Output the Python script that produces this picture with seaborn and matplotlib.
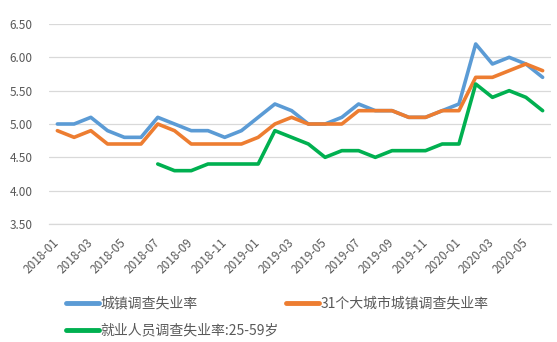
import numpy as np
import pandas as pd
import matplotlib
matplotlib.use("Agg")
import matplotlib.pyplot as plt
import seaborn as sns
from matplotlib.lines import Line2D

months = [f"{y}-{m:02d}" for y in (2018, 2019, 2020) for m in range(1, 13)][:30]

urban = [5.0, 5.0, 5.1, 4.9, 4.8, 4.8, 5.1, 5.0, 4.9, 4.9, 4.8, 4.9,
         5.1, 5.3, 5.2, 5.0, 5.0, 5.1, 5.3, 5.2, 5.2, 5.1, 5.1, 5.2,
         5.3, 6.2, 5.9, 6.0, 5.9, 5.7]
big31 = [4.9, 4.8, 4.9, 4.7, 4.7, 4.7, 5.0, 4.9, 4.7, 4.7, 4.7, 4.7,
         4.8, 5.0, 5.1, 5.0, 5.0, 5.0, 5.2, 5.2, 5.2, 5.1, 5.1, 5.2,
         5.2, 5.7, 5.7, 5.8, 5.9, 5.8]
age2559 = [np.nan] * 6 + [4.4, 4.3, 4.3, 4.4, 4.4, 4.4,
           4.4, 4.9, 4.8, 4.7, 4.5, 4.6, 4.6, 4.5, 4.6, 4.6, 4.6, 4.7,
           4.7, 5.6, 5.4, 5.5, 5.4, 5.2]

names = ["城镇调查失业率", "31个大城市城镇调查失业率", "就业人员调查失业率:25-59岁"]
colors = ["#5B9BD5", "#ED7D31", "#00B050"]

df = pd.concat([
    pd.DataFrame({"idx": range(len(months)), "month": months, "value": v, "series": n})
    for v, n in zip([urban, big31, age2559], names)
])

sns.set_theme(style="white")
plt.rcParams['font.family'] = ['Noto Sans CJK SC', 'DejaVu Sans']

fig = plt.figure(figsize=(5.57, 3.42), dpi=100)
ax = fig.add_axes([49/557, 1-224/342, (551-49)/557, (224-24)/342])

sns.lineplot(data=df.dropna(), x="idx", y="value", hue="series", hue_order=names,
             palette=colors, linewidth=2.6, ax=ax, legend=False)

ax.set_xlim(-0.5, len(months) - 0.5)
ax.set_ylim(3.5, 6.5)
ax.set_yticks(np.arange(3.5, 6.51, 0.5))
ax.set_yticklabels([f"{v:.2f}" for v in np.arange(3.5, 6.51, 0.5)])
ax.yaxis.grid(True, color="#D9D9D9", linewidth=0.9)
ax.set_axisbelow(True)
for s in ["left", "right", "top"]:
    ax.spines[s].set_visible(False)
ax.spines["bottom"].set_color("#D9D9D9")
ax.spines["bottom"].set_linewidth(0.9)

ax.set_xticks(range(0, len(months), 2))
ax.set_xticklabels(months[::2], rotation=45, ha="right", va="center",
                   rotation_mode="anchor")
ax.set_xticks(np.arange(-0.5, len(months), 2), minor=True)
ax.tick_params(axis="x", which="major", length=0, pad=12, labelsize=8.5, labelcolor="#595959")
ax.tick_params(axis="x", which="minor", length=4, width=0.9, color="#D9D9D9", direction="out")
ax.tick_params(axis="y", length=0, pad=12, labelsize=8.5, labelcolor="#595959")
ax.set_xlabel("")
ax.set_ylabel("")

order = [0, 2, 1]
handles = [Line2D([], [], color=colors[i], linewidth=3.5) for i in order]
labels = [names[i] for i in order]
leg = fig.legend(handles, labels, ncol=2, loc="center left",
                 bbox_to_anchor=(66/557, 1-317/342), frameon=False,
                 fontsize=10, handlelength=2.4, handletextpad=0.1,
                 columnspacing=0.5, labelspacing=0.95, borderpad=0, borderaxespad=0)
for t in leg.get_texts():
    t.set_color("#595959")

fig.savefig("out.png", dpi=100)
